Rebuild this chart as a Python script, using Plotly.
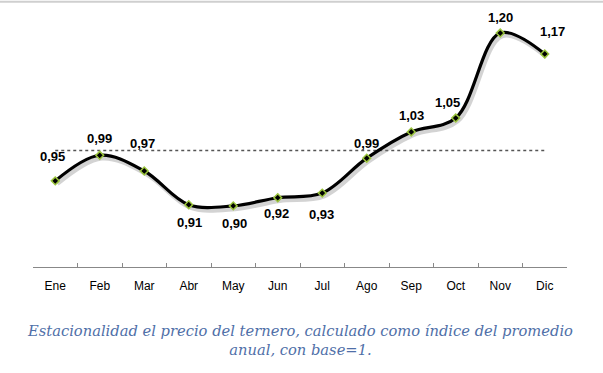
import plotly.graph_objects as go

months = ["Ene", "Feb", "Mar", "Abr", "May", "Jun", "Jul", "Ago", "Sep", "Oct", "Nov", "Dic"]
index_values = [0.948, 0.992, 0.965, 0.907, 0.905, 0.919, 0.927, 0.987, 1.032, 1.056, 1.202, 1.166]
value_labels = ["0,95", "0,99", "0,97", "0,91", "0,90", "0,92", "0,93", "0,99", "1,03", "1,05", "1,20", "1,17"]
base_values = [1.0] * len(months)
caption = "Estacionalidad el precio del ternero, calculado como índice del promedio<br>anual, con base=1."

# label offsets in pixels (style only)
label_xshift = [-3, 0, -2, 1, 1, -1, -1, 0, 0, -8, 0, 8]
label_yshift = [24, 17, 27, -18, -18, -16, -21, 15, 16, 16, 16, 22]

Y0, Y1 = 0.80, 0.80 + 257 / 582
X0, X1 = -0.5, 11.5
dx = 2.0 / 44.5
dy = 3 / 582

fig = go.Figure()

# dotted base line
fig.add_trace(go.Scatter(x=months, y=base_values, mode="lines",
                         line=dict(color="#555555", width=1.5, dash="dot"),
                         hoverinfo="skip", showlegend=False))

# shadow
fig.add_trace(go.Scatter(x=months, y=index_values, mode="lines",
                         line=dict(color="rgba(130,130,130,0.35)", width=4.5, shape="spline", smoothing=1),
                         xaxis="x2", yaxis="y2", hoverinfo="skip", showlegend=False))

# main line
fig.add_trace(go.Scatter(x=months, y=index_values, mode="lines+markers",
                         line=dict(color="black", width=3.2, shape="spline", smoothing=1),
                         marker=dict(symbol="diamond", size=6, color="black",
                                     line=dict(color="#9bc53d", width=1.5)),
                         xaxis="x3", yaxis="y3", showlegend=False))

for m, v, t, xs, ys in zip(months, index_values, value_labels, label_xshift, label_yshift):
    fig.add_annotation(x=m, y=v, text=t, showarrow=False, xshift=xs, yshift=ys,
                       xref="x3", yref="y3",
                       font=dict(family="Liberation Sans", size=13, color="black", weight="bold"))

fig.add_annotation(x=0.5, y=-0.285, xref="paper", yref="paper", text=caption,
                   showarrow=False, xanchor="center", yanchor="middle",
                   font=dict(family="DejaVu Serif", size=14.7, color="#4f6fa8", style="italic"))

fig.add_shape(type="line", xref="paper", yref="paper", x0=-0.2, x1=1.2, y0=1.032, y1=1.032,
              line=dict(color="#cfcfcf", width=2), layer="above")

fig.update_layout(
    width=603, height=373,
    margin=dict(l=33, r=36, t=10, b=106),
    paper_bgcolor="white", plot_bgcolor="white",
    xaxis=dict(type="category", categoryorder="array", categoryarray=months,
               range=[X0, X1], showgrid=False, zeroline=False,
               showline=True, linecolor="#888888", linewidth=1,
               ticks="inside", ticklen=4, tickcolor="#888888", tickson="boundaries",
               tickfont=dict(family="Liberation Sans", size=12, color="black"), ticklabelstandoff=8),
    yaxis=dict(range=[Y0, Y1], visible=False, showgrid=False, zeroline=False),
    xaxis2=dict(type="category", categoryarray=months, range=[X0 - dx, X1 - dx],
                overlaying="x", visible=False),
    yaxis2=dict(range=[Y0 + dy, Y1 + dy], overlaying="y", visible=False),
    xaxis3=dict(type="category", categoryarray=months, range=[X0, X1],
                overlaying="x", visible=False),
    yaxis3=dict(range=[Y0, Y1], overlaying="y", visible=False),
)

fig.write_html("out.html", config={"displayModeBar": False},
               post_script="document.body.style.margin='0';")
